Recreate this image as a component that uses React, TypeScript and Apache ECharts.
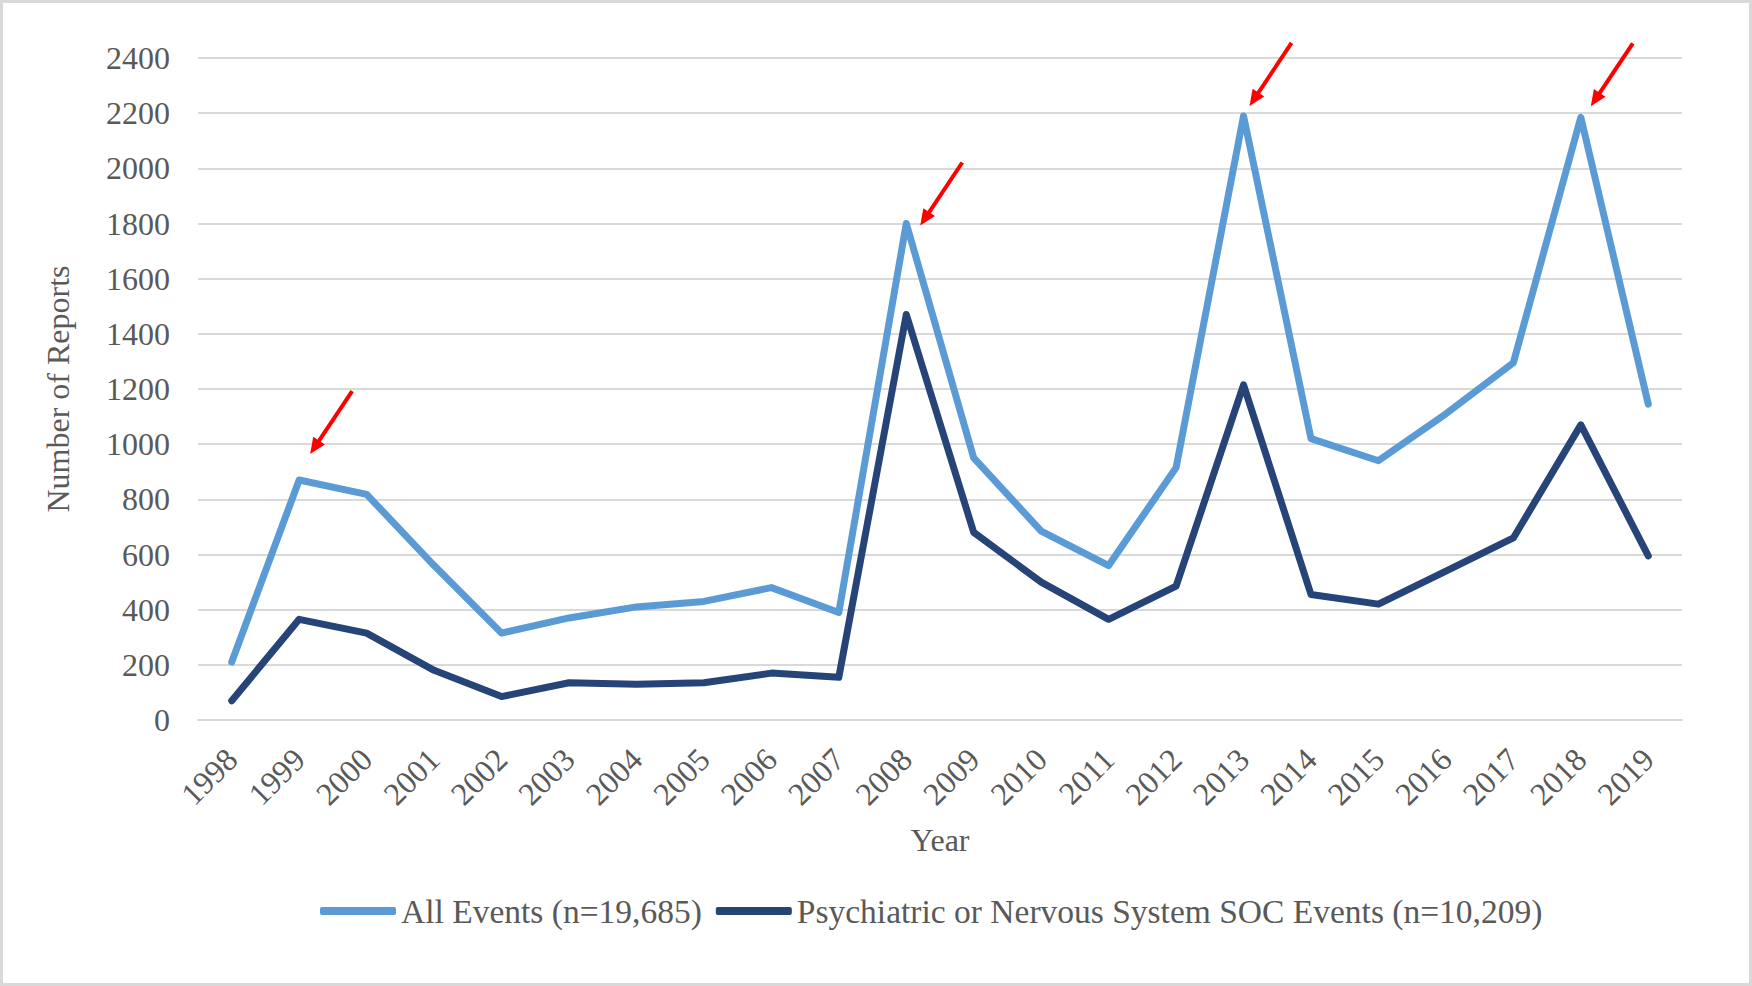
import { useEffect, useRef } from 'react';
import * as echarts from 'echarts';

const years = ['1998', '1999', '2000', '2001', '2002', '2003', '2004', '2005', '2006', '2007', '2008', '2009', '2010', '2011', '2012', '2013', '2014', '2015', '2016', '2017', '2018', '2019'];
const allEvents = [210, 870, 818, 560, 315, 370, 410, 430, 480, 390, 1800, 950, 685, 560, 915, 2190, 1020, 940, 1110, 1295, 2185, 1145];
const psychEvents = [70, 365, 315, 180, 85, 135, 130, 135, 170, 155, 1470, 680, 500, 365, 485, 1215, 455, 420, 540, 660, 1070, 595];
const seriesNames = ['All Events (n=19,685)', 'Psychiatric or Nervous System SOC Events (n=10,209)'];
const yMin = 0;
const yMax = 2400;
const yInterval = 200;
const arrowYears = ['1999', '2008', '2013', '2018'];

// arrow tip offsets (px) relative to the annotated point
const ARROW_OFFSETS = [[11, -26], [14, 2], [6, -10], [10, -11]];

const FONT = '"Liberation Serif", "Times New Roman", serif';
const TEXT = '#595959';

export default function App() {
  const ref = useRef<HTMLDivElement>(null);
  useEffect(() => {
    if (!ref.current) return;
    const chart = echarts.init(ref.current, null, { renderer: 'svg' });
    chart.setOption({
      animation: false,
      backgroundColor: '#ffffff',
      grid: { left: 198, right: 70, top: 58, bottom: 266 },
      legend: {
        left: 320,
        top: 894,
        padding: 0,
        itemWidth: 76,
        itemHeight: 8,
        itemGap: 14,
        icon: 'roundRect',
        textStyle: { fontFamily: FONT, fontSize: 33.5, color: TEXT },
        data: seriesNames,
      },
      xAxis: {
        type: 'category',
        data: years,
        boundaryGap: true,
        name: 'Year',
        nameLocation: 'middle',
        nameGap: 104,
        nameTextStyle: { fontFamily: FONT, fontSize: 32, color: TEXT },
        axisLine: { show: true, lineStyle: { color: '#d9d9d9', width: 2 } },
        axisTick: { show: false },
        axisLabel: {
          rotate: 45,
          interval: 0,
          margin: 34,
          fontFamily: FONT,
          fontSize: 32,
          color: TEXT,
        },
      },
      yAxis: {
        type: 'value',
        min: yMin,
        max: yMax,
        interval: yInterval,
        name: 'Number of Reports',
        nameLocation: 'middle',
        nameGap: 124,
        nameTextStyle: { fontFamily: FONT, fontSize: 32, color: TEXT },
        axisLine: { show: false },
        axisTick: { show: false },
        axisLabel: {
          margin: 28,
          fontFamily: FONT,
          fontSize: 32,
          color: TEXT,
          formatter: (v: number) => String(v),
        },
        splitLine: { lineStyle: { color: '#d9d9d9', width: 2 } },
      },
      series: [
        {
          name: seriesNames[0],
          type: 'line',
          data: allEvents,
          symbol: 'none',
          itemStyle: { color: '#5b9bd5' },
          lineStyle: { color: '#5b9bd5', width: 7, cap: 'round', join: 'round' },
        },
        {
          name: seriesNames[1],
          type: 'line',
          data: psychEvents,
          symbol: 'none',
          itemStyle: { color: '#264478' },
          lineStyle: { color: '#264478', width: 7, cap: 'round', join: 'round' },
        },
      ],
    });

    const graphics: any[] = [
      {
        type: 'rect',
        shape: { x: 1.5, y: 1.5, width: 1749, height: 983 },
        style: { fill: 'none', stroke: '#d9d9d9', lineWidth: 3 },
        silent: true,
      },
    ];
    arrowYears.forEach((yr, i) => {
      const idx = years.indexOf(yr);
      const p = chart.convertToPixel({ seriesIndex: 0 }, [idx, allEvents[idx]]) as number[];
      const tip = [p[0] + ARROW_OFFSETS[i][0], p[1] + ARROW_OFFSETS[i][1]];
      const start = [tip[0] + 42, tip[1] - 63];
      const len = Math.hypot(tip[0] - start[0], tip[1] - start[1]);
      const d = [(tip[0] - start[0]) / len, (tip[1] - start[1]) / len];
      const n = [-d[1], d[0]];
      const headLen = 16;
      const headHalf = 7;
      const base = [tip[0] - d[0] * headLen, tip[1] - d[1] * headLen];
      graphics.push({
        type: 'line',
        shape: { x1: start[0], y1: start[1], x2: base[0] + d[0] * 2, y2: base[1] + d[1] * 2 },
        style: { stroke: '#ff0000', lineWidth: 4 },
        silent: true,
      });
      graphics.push({
        type: 'polygon',
        shape: {
          points: [
            tip,
            [base[0] + n[0] * headHalf, base[1] + n[1] * headHalf],
            [base[0] - n[0] * headHalf, base[1] - n[1] * headHalf],
          ],
        },
        style: { fill: '#ff0000' },
        silent: true,
      });
    });
    chart.setOption({ graphic: graphics });

    return () => chart.dispose();
  }, []);
  return <div ref={ref} style={{ position: 'absolute', left: 0, top: 0, width: 1752, height: 986 }} />;
}
